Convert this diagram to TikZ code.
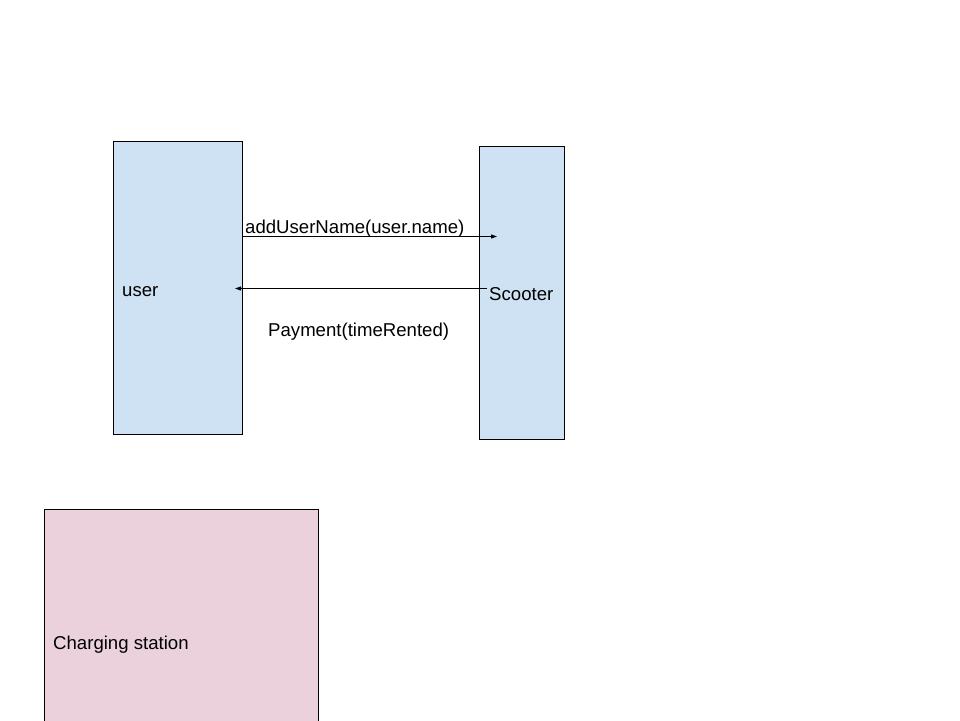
\documentclass[tikz,border=0pt]{standalone}
\usepackage{fontspec}
\setmainfont{Liberation Sans}
\usetikzlibrary{arrows.meta}
\definecolor{boxblue}{HTML}{CFE2F3}
\definecolor{boxpink}{HTML}{EAD1DC}
\tikzset{
  box/.style={draw=black, line width=1pt, inner sep=0pt, anchor=north west},
  lbl/.style={inner sep=0pt, anchor=base west, font=\fontsize{18.6pt}{22pt}\selectfont},
  msg/.style={draw=black, line width=0.9pt, -{Triangle[length=6pt,width=4pt]}}
}
\begin{document}
\begin{tikzpicture}[x=1pt,y=-1pt]
\useasboundingbox (0,0) rectangle (960,720);
\fill[white] (0,0) rectangle (960,720);
\node[box, fill=boxblue, minimum width=129pt, minimum height=293pt] (user) at (113,141) {};
\node[box, fill=boxblue, minimum width=85pt, minimum height=293pt] (scooter) at (479,146) {};
\node[box, fill=boxpink, minimum width=274pt, minimum height=230pt] (charging) at (44,509) {};
\node[lbl] (userlbl) at (122,296) {user};
\node[lbl] (scooterlbl) at (489,300) {Scooter};
\node[lbl] (charginglbl) at (53,649) {Charging station};
\node[lbl] (m1lbl) at (245,233) {addUserName(user.name)};
\node[lbl] (m2lbl) at (268,336) {Payment(timeRented)};
\coordinate (m1s) at (242,236.5);
\coordinate (m1e) at (497,236.5);
\coordinate (m2s) at (487,288.5);
\coordinate (m2e) at (235,288.5);
\draw[msg] (m1s) -- (m1e);
\draw[msg] (m2s) -- (m2e);
\end{tikzpicture}
\end{document}
